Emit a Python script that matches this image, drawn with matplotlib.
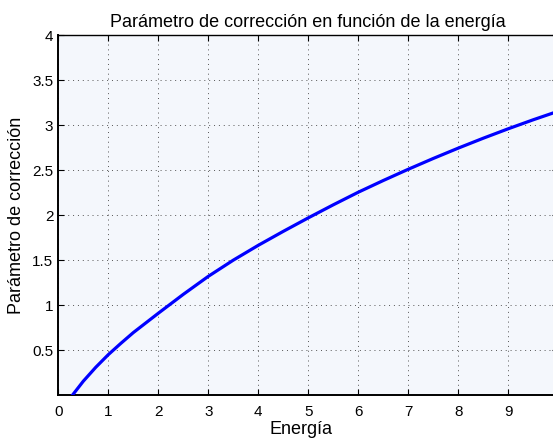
import matplotlib.pyplot as plt

plt.rcParams["font.family"] = ["Liberation Sans", "DejaVu Sans"]

# values
energia = [0.29, 0.5, 0.75, 1.0, 1.25, 1.5, 2.0, 2.5, 3.0, 3.5, 4.0, 4.5,
           5.0, 5.5, 6.0, 6.5, 7.0, 7.5, 8.0, 8.5, 9.0, 9.5, 10.0]
parametro = [0.0, 0.15, 0.305, 0.445, 0.57, 0.69, 0.905, 1.115, 1.315, 1.495,
             1.66, 1.815, 1.965, 2.11, 2.25, 2.38, 2.505, 2.625, 2.74, 2.85,
             2.955, 3.055, 3.15]
xticks = list(range(0, 10))
yticks = [0.5, 1, 1.5, 2, 2.5, 3, 3.5, 4]
ytick_labels = ["0.5", "1", "1.5", "2", "2.5", "3", "3.5", "4"]

fig = plt.figure(figsize=(5.53, 4.39), dpi=100)
ax = fig.add_axes([58.3 / 553, 43.3 / 439, 500 / 553, 360 / 439])
ax.set_facecolor("#f4f7fc")

ax.plot(energia, parametro, color="#0000ff", linewidth=2.3, zorder=3)

ax.set_xlim(0, 10)
ax.set_ylim(0, 4)
ax.set_xticks(xticks)
ax.set_yticks(yticks)
ax.set_yticklabels(ytick_labels)
ax.tick_params(direction="in", length=4, width=0.8, labelsize=11,
               top=True, right=True)
ax.tick_params(axis="x", pad=6.5)
ax.tick_params(axis="y", pad=3.5)
ax.grid(True, color="#555555", linestyle=(0, (1, 4)), linewidth=0.7)

for side in ["left", "bottom"]:
    ax.spines[side].set_linewidth(1.4)
ax.spines["top"].set_linewidth(1.0)

ax.set_title("Parámetro de corrección en función de la energía", fontsize=13, pad=6)
ax.set_xlabel("Energía", fontsize=13)
ax.set_ylabel("Parámetro de corrección", fontsize=13)
ax.xaxis.set_label_coords(0.485, -0.07)
ax.yaxis.set_label_coords(-0.066, 0.5)

fig.savefig("out.png", dpi=100)
